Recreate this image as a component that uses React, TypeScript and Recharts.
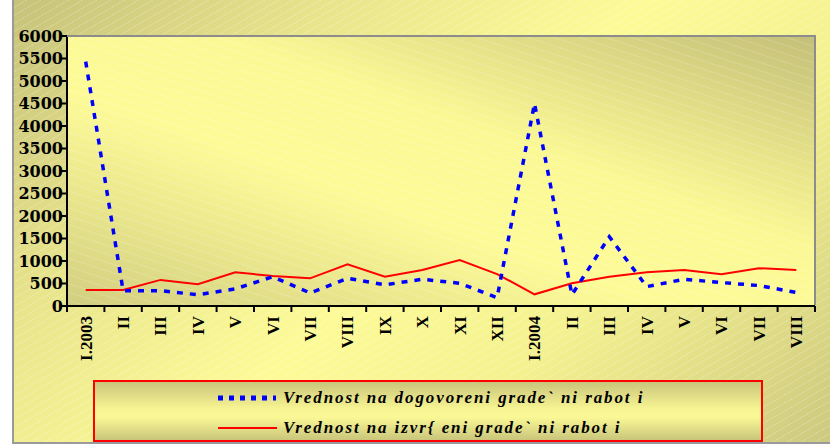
import { ComposedChart, Line, XAxis, YAxis, CartesianGrid } from 'recharts';

const months = ['I.2003', 'II', 'III', 'IV', 'V', 'VI', 'VII', 'VIII', 'IX', 'X', 'XI', 'XII',
  'I.2004', 'II', 'III', 'IV', 'V', 'VI', 'VII', 'VIII'];

// contracted value (blue dashed)
const contracted = [5430, 340, 340, 250, 380, 650, 290, 615, 470, 595, 505, 185,
  4500, 250, 1540, 430, 595, 520, 455, 300];

// realised value (red)
const realised = [355, 355, 580, 485, 750, 665, 615, 925, 650, 800, 1020, 710,
  260, 505, 650, 750, 800, 705, 840, 800];

const yTicks = [0, 500, 1000, 1500, 2000, 2500, 3000, 3500, 4000, 4500, 5000, 5500, 6000];

const seriesNames = ['Vrednost na dogovoreni grade` ni rabot i', 'Vrednost na izvr{ eni grade` ni rabot i'];

const data = months.map((m, i) => ({ idx: i, month: m, contracted: contracted[i], realised: realised[i] }));

const PLOT_LEFT = 67;
const PLOT_RIGHT = 815;
const PLOT_TOP = 36;
const PLOT_BOTTOM = 306;
const BAND = (PLOT_RIGHT - PLOT_LEFT) / months.length;

const MonthTick = (props: any) => {
  const { x, y, payload, index } = props;
  const ty = y + 10;
  const left = x - BAND / 2;
  const right = x + BAND / 2;
  return (
    <g>
      <line x1={left} y1={y} x2={left} y2={y + 6} stroke="#000" strokeWidth={2} />
      {index === months.length - 1 && <line x1={right} y1={y} x2={right} y2={y + 6} stroke="#000" strokeWidth={2} />}
      <text
        x={x}
        y={ty}
        transform={`rotate(-90, ${x}, ${ty})`}
        textAnchor="end"
        dy="0.35em"
        fontFamily="'Liberation Serif', serif"
        fontWeight="bold"
        fontSize={17}
        fill="#000"
      >
        {months[payload.value]}
      </text>
    </g>
  );
};

export default function App() {
  return (
    <div style={{ position: 'absolute', left: 0, top: 0, width: 830, height: 448, background: '#fff' }}>
      {/* outer frame */}
      <div
        style={{
          position: 'absolute', left: 12, top: 0, width: 818, height: 444,
          borderLeft: '2px solid #9a9a9a', borderBottom: '2px solid #9a9a9a', boxSizing: 'border-box',
          background:
            'repeating-linear-gradient(-30deg, rgba(255,255,255,0.18) 0px, rgba(255,255,255,0.18) 1px, transparent 1px, transparent 7px), ' +
            'linear-gradient(135deg, #c6c27a 0%, #e8e48c 25%, #fdfb98 50%, #f4f190 70%, #cdc97f 100%)',
        }}
      />
      <div style={{ position: 'absolute', left: 0, top: 0 }}>
        <ComposedChart width={830} height={448} data={data} margin={{ top: PLOT_TOP, right: 830 - PLOT_RIGHT, left: 0, bottom: 72 }}>
          <defs>
            <linearGradient id="plotBg" x1="0" y1="1" x2="1" y2="0">
              <stop offset="0%" stopColor="#d2ce80" />
              <stop offset="40%" stopColor="#fdfb98" />
              <stop offset="60%" stopColor="#fbf995" />
              <stop offset="100%" stopColor="#c4bf78" />
            </linearGradient>
            <pattern id="stripes" width="8" height="8" patternUnits="userSpaceOnUse" patternTransform="rotate(18)">
              <line x1="0" y1="0" x2="8" y2="0" stroke="#ffffff" strokeWidth="1" strokeOpacity="0.3" />
            </pattern>
          </defs>
          <CartesianGrid horizontal={false} vertical={false} fill="url(#plotBg)" />
          <CartesianGrid horizontal={false} vertical={false} fill="url(#stripes)" />
          <XAxis
            dataKey="idx"
            type="category"
            scale="band"
            height={70}
            interval={0}
            tick={<MonthTick />}
            tickSize={0}
            tickMargin={0}
            tickLine={false}
            axisLine={{ stroke: '#000', strokeWidth: 2 }}
          />
          <YAxis
            domain={[0, 6000]}
            ticks={yTicks}
            width={PLOT_LEFT}
            interval={0}
            tickSize={6}
            tickMargin={-2}
            tickLine={{ stroke: '#000', strokeWidth: 2 }}
            axisLine={{ stroke: '#000', strokeWidth: 2 }}
            tick={{ fill: '#000', fontFamily: "'DejaVu Serif', serif", fontWeight: 'bold', fontSize: 16 }}
          />
          <Line
            dataKey="realised"
            name={seriesNames[1]}
            stroke="#ff0000"
            strokeWidth={2}
            dot={false}
            isAnimationActive={false}
          />
          <Line
            dataKey="contracted"
            name={seriesNames[0]}
            stroke="#0000ff"
            strokeWidth={3.5}
            strokeDasharray="6 7"
            dot={false}
            isAnimationActive={false}
          />
        </ComposedChart>
      </div>
      {/* plot border, top and right */}
      <div
        style={{
          position: 'absolute', left: PLOT_LEFT, top: PLOT_TOP - 1, width: PLOT_RIGHT - PLOT_LEFT + 1,
          height: PLOT_BOTTOM - PLOT_TOP, boxSizing: 'border-box',
          borderTop: '2px solid #8c8c8c', borderRight: '2px solid #8c8c8c', pointerEvents: 'none',
        }}
      />
      {/* legend */}
      <div
        style={{
          position: 'absolute', left: 93, top: 380, width: 670, height: 62, boxSizing: 'border-box',
          border: '2px solid #ff0000',
          background: 'linear-gradient(to bottom, #c9c57b 0%, #f6f392 45%, #fbf996 60%, #c9c57b 100%)',
          fontFamily: "'Liberation Serif', serif", fontWeight: 'bold', fontStyle: 'italic', fontSize: 17,
          letterSpacing: 1.9, color: '#000',
        }}
      >
        <div style={{ position: 'absolute', left: 123, top: 6, display: 'flex', alignItems: 'center', height: 20 }}>
          <svg width={60} height={10}>
            <line x1={0} y1={5} x2={58} y2={5} stroke="#0000ff" strokeWidth={5} strokeDasharray="5 6" />
          </svg>
          <span style={{ marginLeft: 5 }}>{seriesNames[0]}</span>
        </div>
        <div style={{ position: 'absolute', left: 123, top: 36, display: 'flex', alignItems: 'center', height: 20 }}>
          <svg width={60} height={10}>
            <line x1={0} y1={5} x2={59} y2={5} stroke="#ff0000" strokeWidth={2} />
          </svg>
          <span style={{ marginLeft: 5 }}>{seriesNames[1]}</span>
        </div>
      </div>
    </div>
  );
}
